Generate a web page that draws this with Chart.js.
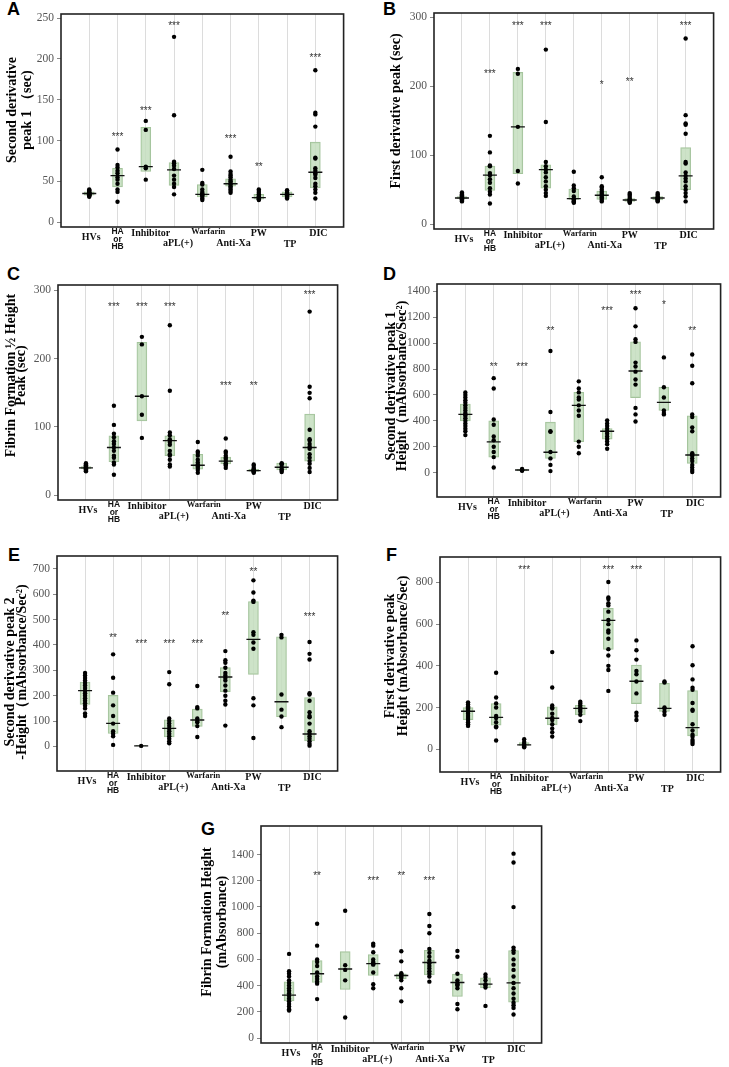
<!DOCTYPE html>
<html>
<head>
<meta charset="utf-8">
<script src="https://cdn.jsdelivr.net/npm/chart.js@4.4.1/dist/chart.umd.min.js"></script>
<style>
  body { margin: 0; background: #fff; }
  #page { position: relative; width: 729px; height: 1067px; overflow: hidden; background: #fff; }
  #page canvas { position: absolute; }
  .tag { position: absolute; font: bold 18px "Liberation Sans", Arial, sans-serif; line-height: 1; color: #000; }
</style>
</head>
<body>
<div id="page"></div>
<script>
// Groups on the x axis (same for every panel)
const categories = ["HVs", "HA or HB", "Inhibitor", "aPL(+)", "Warfarin", "Anti-Xa", "PW", "TP", "DIC"];
const xTickLabels = ["HVs", ["HA", "or", "HB"], "Inhibitor", "aPL(+)", "Warfarin", "Anti-Xa", "PW", "TP", "DIC"];

// A - Second derivative peak 1 (sec)
const aTicks = [0, 50, 100, 150, 200, 250];
const aQ1 = [33, 43, 62, 45, 31, 44, 28, 31, 42];
const aQ3 = [37, 66, 116, 73, 46, 53, 34, 37, 98];
const aMed = [35, 57, 68, 64, 34, 47, 30, 34, 61];
const aPoints = [
  [31, 32, 33, 33, 34, 34, 35, 35, 36, 36, 37, 38, 39, 40],
  [89, 70, 67, 63, 60, 55, 52, 47, 40, 37, 25],
  [124, 113, 68, 66, 52],
  [227, 131, 74, 72, 69, 65, 57, 52, 47, 43, 34],
  [64, 48, 46, 40, 37, 35, 34, 33, 31, 29, 27],
  [80, 62, 59, 57, 55, 52, 50, 48, 46, 44, 42, 40, 38, 36],
  [40, 38, 36, 34, 32, 31, 30, 29, 28, 27],
  [39, 38, 36, 35, 34, 33, 32, 31, 30, 29],
  [186, 134, 132, 117, 79, 78, 66, 63, 60, 58, 54, 47, 44, 40, 36, 29]
];
const aSig = ["", "***", "***", "***", "", "***", "**", "", "***"];
const aSigAt = [null, 108, 139, 243, null, 105, 71, null, 205];

// B - First derivative peak (sec)
const bTicks = [0, 100, 200, 300];
const bQ1 = [37, 49, 73, 52, 36, 36, 33, 35, 50];
const bQ3 = [40, 84, 220, 86, 51, 48, 37, 40, 111];
const bMed = [38, 71, 141, 79, 37, 42, 35, 38, 70];
const bPoints = [
  [33, 34, 35, 36, 37, 38, 38, 39, 40, 41, 42, 43, 44, 46],
  [128, 104, 85, 84, 74, 71, 65, 60, 52, 47, 43, 30],
  [225, 218, 141, 77, 59],
  [253, 148, 90, 84, 79, 75, 68, 62, 55, 50, 45, 41],
  [76, 56, 52, 48, 40, 37, 36, 34, 33, 32, 31],
  [68, 55, 53, 50, 47, 45, 43, 41, 39, 37, 35, 33],
  [45, 43, 41, 38, 36, 35, 34, 33, 32, 31],
  [45, 43, 41, 39, 38, 37, 36, 35, 34, 33],
  [269, 158, 146, 144, 131, 90, 88, 75, 70, 66, 62, 55, 50, 45, 40, 33]
];
const bSig = ["", "***", "***", "***", "", "*", "**", "", "***"];
const bSigAt = [null, 222, 291, 291, null, 206, 210, null, 291];

// C - Fibrin Formation 1/2 Height Peak (sec)
const cTicks = [0, 100, 200, 300];
const cQ1 = [39, 49, 109, 58, 38, 46, 35, 37, 50];
const cQ3 = [42, 87, 224, 87, 60, 56, 38, 47, 119];
const cMed = [40, 70, 145, 80, 44, 50, 36, 41, 70];
const cPoints = [
  [35, 36, 37, 38, 39, 40, 40, 41, 42, 43, 44, 45, 47],
  [131, 103, 90, 85, 79, 75, 70, 65, 58, 55, 48, 45, 30],
  [232, 221, 145, 118, 84],
  [249, 153, 92, 88, 82, 78, 74, 65, 60, 58, 52, 45, 42],
  [78, 64, 62, 58, 52, 48, 45, 42, 40, 37, 33],
  [83, 64, 62, 58, 55, 53, 50, 47, 45, 43, 40],
  [45, 43, 40, 38, 37, 36, 35, 34, 33],
  [47, 46, 45, 41, 38, 36, 34],
  [269, 159, 150, 142, 96, 82, 80, 75, 71, 68, 60, 55, 50, 46, 40, 34]
];
const cSig = ["", "***", "***", "***", "", "***", "**", "", "***"];
const cSigAt = [null, 280, 280, 280, null, 164, 164, null, 298];

// D - Second derivative peak 1 Height
const dTicks = [0, 200, 400, 600, 800, 1000, 1200, 1400];
const dQ1 = [400, 120, 14, 110, 240, 258, 580, 480, 72];
const dQ3 = [530, 400, 26, 390, 620, 340, 1010, 660, 438];
const dMed = [450, 238, 20, 158, 520, 320, 785, 543, 136];
const dPoints = [
  [620, 600, 580, 560, 540, 520, 500, 480, 460, 450, 440, 420, 400, 380, 360, 340, 320, 290],
  [730, 650, 410, 370, 280, 250, 200, 160, 120, 40],
  [28, 22, 18, 14],
  [940, 468, 320, 315, 160, 110, 60, 12],
  [705, 650, 620, 580, 565, 520, 480, 440, 240, 200, 150],
  [404, 380, 360, 340, 320, 300, 280, 260, 240, 220, 185],
  [1270, 1130, 1030, 1010, 850, 820, 780, 720, 680, 500, 450, 395],
  [890, 660, 580, 480, 460, 450],
  [912, 826, 690, 450, 430, 350, 320, 150, 140, 130, 110, 90, 60, 40, 20, 5]
];
const dSig = ["", "**", "***", "**", "", "***", "***", "*", "**"];
const dSigAt = [null, 839, 839, 1117, null, 1266, 1395, 1318, 1117];

// E - Second derivative peak 2 Height
const eTicks = [0, 100, 200, 300, 400, 500, 600, 700];
const eQ1 = [166, 51, 0, 37, 79, 216, 284, 117, 22];
const eQ3 = [254, 201, 4, 105, 147, 311, 571, 432, 193];
const eMed = [220, 91, 2, 71, 104, 274, 422, 176, 49];
const ePoints = [
  [290, 280, 270, 260, 250, 240, 230, 220, 210, 200, 190, 180, 170, 160, 150, 130, 120],
  [363, 271, 212, 162, 120, 90, 60, 50, 40, 6],
  [2],
  [293, 245, 110, 100, 90, 80, 70, 60, 50, 40, 30, 20, 12],
  [238, 155, 150, 110, 100, 95, 80, 37],
  [376, 340, 330, 310, 290, 280, 270, 260, 240, 220, 200, 180, 165, 82],
  [655, 607, 575, 570, 450, 440, 410, 385, 190, 162, 33],
  [440, 430, 205, 145, 118, 76],
  [412, 365, 343, 210, 205, 180, 135, 120, 115, 90, 60, 50, 40, 30, 20, 10, 3]
];
const eSig = ["", "**", "***", "***", "***", "**", "**", "", "***"];
const eSigAt = [null, 440, 413, 413, 413, 524, 700, null, 521];

// F - First derivative peak Height
const fTicks = [0, 200, 400, 600, 800];
const fQ1 = [142, 115, 18, 117, 165, 479, 219, 181, 64];
const fQ3 = [200, 219, 32, 204, 211, 676, 404, 316, 281];
const fMed = [182, 153, 21, 149, 196, 618, 326, 196, 104];
const fPoints = [
  [225, 215, 205, 200, 195, 190, 185, 180, 170, 160, 150, 140, 130, 120, 112],
  [367, 248, 220, 200, 160, 150, 130, 110, 105, 42],
  [48, 35, 25, 20, 15, 10],
  [466, 296, 210, 200, 195, 170, 150, 140, 120, 100, 82, 61],
  [228, 220, 210, 200, 190, 180, 165, 135],
  [802, 728, 720, 700, 690, 660, 620, 600, 570, 560, 530, 480, 450, 400, 380, 280],
  [522, 475, 430, 375, 360, 325, 268, 175, 160, 140],
  [325, 320, 200, 195, 180, 165],
  [494, 403, 335, 295, 285, 222, 190, 185, 120, 90, 70, 60, 45, 35, 25]
];
const fSig = ["", "", "***", "", "", "***", "***", "", ""];
const fSigAt = [null, null, 872, null, null, 872, 872, null, null];

// G - Fibrin Formation Height
const gTicks = [0, 200, 400, 600, 800, 1000, 1200, 1400];
const gQ1 = [284, 424, 370, 477, 451, 482, 317, 383, 274];
const gQ3 = [429, 591, 659, 637, 489, 670, 487, 459, 667];
const gMed = [327, 490, 527, 568, 477, 576, 424, 411, 421];
const gPoints = [
  [642, 510, 490, 470, 440, 420, 400, 380, 360, 340, 320, 300, 280, 260, 240, 220, 210],
  [872, 705, 600, 580, 550, 500, 470, 450, 430, 415, 297],
  [971, 555, 520, 440, 157],
  [720, 705, 655, 600, 580, 570, 565, 560, 500, 410, 380],
  [662, 585, 495, 485, 480, 470, 460, 440, 380, 280],
  [946, 855, 800, 680, 650, 620, 590, 570, 550, 530, 510, 490, 470, 430],
  [665, 620, 490, 440, 420, 410, 400, 380, 260, 220],
  [485, 465, 440, 410, 400, 385, 245],
  [1407, 1339, 999, 690, 670, 650, 600, 560, 520, 470, 420, 380, 340, 300, 270, 250, 230, 180]
];
const gSig = ["", "**", "", "***", "**", "***", "", "", ""];
const gSigAt = [null, 1260, null, 1217, 1260, 1217, null, null, null];

// where each panel sits on the page (frame = plot box l,t,r,b)
const panels = [
  { tag: "A", left: 0, frame: [61, 14, 349, 227], yMin: -6, yMax: 255, ticks: aTicks, q1: aQ1, q3: aQ3, med: aMed, pts: aPoints, sig: aSig, sigAt: aSigAt,
    title: ["Second derivative", "peak 1 （sec)"], titleX: [12, 27], titleY: 110, tagPos: [7, 0] },
  { tag: "B", left: 364, frame: [434, 13, 719, 229], yMin: -7, yMax: 306, ticks: bTicks, q1: bQ1, q3: bQ3, med: bMed, pts: bPoints, sig: bSig, sigAt: bSigAt,
    title: ["First derivative peak (sec)"], titleX: [396], titleY: 111, tagPos: [383, 0] },
  { tag: "C", left: 0, frame: [58, 284.5, 343, 500], yMin: -7, yMax: 308, ticks: cTicks, q1: cQ1, q3: cQ3, med: cMed, pts: cPoints, sig: cSig, sigAt: cSigAt,
    title: ["Fibrin Formation ½ Height", "Peak (sec)"], titleX: [11, 21], titleY: 375, tagPos: [7, 265] },
  { tag: "D", left: 364, frame: [437, 284, 726, 497], yMin: -188, yMax: 1457, ticks: dTicks, q1: dQ1, q3: dQ3, med: dMed, pts: dPoints, sig: dSig, sigAt: dSigAt,
    title: ["Second derivative peak 1", "Height（mAbsorbance/Sec²)"], titleX: [391, 402], titleY: 386, tagPos: [383, 265] },
  { tag: "E", left: 0, frame: [57, 556, 343, 771], yMin: -97, yMax: 751, ticks: eTicks, q1: eQ1, q3: eQ3, med: eMed, pts: ePoints, sig: eSig, sigAt: eSigAt,
    title: ["Second derivative peak 2", "-Height（mAbsorbance/Sec²)"], titleX: [10, 22], titleY: 672, tagPos: [8, 546] },
  { tag: "F", left: 364, frame: [440, 557, 726, 772], yMin: -109, yMax: 922, ticks: fTicks, q1: fQ1, q3: fQ3, med: fMed, pts: fPoints, sig: fSig, sigAt: fSigAt,
    title: ["First derivative peak", "Height (mAbsorbance/Sec)"], titleX: [390, 403], titleY: 656, tagPos: [386, 546] },
  { tag: "G", left: 180, frame: [261, 826, 547, 1043], yMin: -38, yMax: 1618, ticks: gTicks, q1: gQ1, q3: gQ3, med: gMed, pts: gPoints, sig: gSig, sigAt: gSigAt,
    title: ["Fibrin Formation Height", "(mAbsorbance)"], titleX: [207, 222], titleY: 922, tagPos: [201, 820] }
];

// x label nudges below the frame (dx, dy from frame bottom)
const xLabelLook = [
  { dx: 2, dy: 10 }, { dx: 0, dy: 5 }, { dx: 5, dy: 6.5 }, { dx: 4, dy: 16.5 }, { dx: 6, dy: 4.5, size: 8.5 },
  { dx: 3, dy: 16 }, { dx: 0, dy: 6.5 }, { dx: 3, dy: 17 }, { dx: 3, dy: 6.5 }
];

const SERIF = '"Liberation Serif", "Times New Roman", serif';
const SANS = '"Liberation Sans", Arial, sans-serif';

const panelDecor = {
  id: "panelDecor",
  afterDraw(chart, args, o) {
    const { ctx, chartArea: ca, scales } = chart;
    ctx.save();
    // significance stars
    ctx.fillStyle = "#333";
    ctx.font = "10px " + SANS;
    ctx.textAlign = "center";
    ctx.textBaseline = "alphabetic";
    o.sig.forEach((s, i) => {
      if (!s) return;
      ctx.fillText(s, scales.x.getPixelForValue(i + 1), scales.y.getPixelForValue(o.sigAt[i]) + 5.7);
    });
    // frame
    ctx.strokeStyle = "#222";
    ctx.lineWidth = 1.6;
    ctx.strokeRect(ca.left, ca.top, ca.right - ca.left, ca.bottom - ca.top);
    // x labels
    ctx.fillStyle = "#111";
    ctx.textBaseline = "middle";
    xTickLabels.forEach((lab, i) => {
      const look = xLabelLook[i];
      const x = scales.x.getPixelForValue(i + 1) + look.dx;
      if (Array.isArray(lab)) {
        ctx.font = "bold 8.5px " + SANS;
        lab.forEach((line, k) => ctx.fillText(line, x, ca.bottom + look.dy + k * 7.3));
      } else {
        ctx.font = "bold " + (look.size || 10) + "px " + SERIF;
        ctx.fillText(lab, x, ca.bottom + look.dy);
      }
    });
    // y title
    ctx.fillStyle = "#000";
    ctx.font = "bold 14px " + SERIF;
    o.title.forEach((line, k) => {
      ctx.save();
      ctx.translate(o.titleX[k] - o.left, o.titleY - o.top);
      ctx.rotate(-Math.PI / 2);
      ctx.fillText(line, 0, 0);
      ctx.restore();
    });
    ctx.restore();
  }
};

const page = document.getElementById("page");

panels.forEach((p) => {
  const [fl, ft, fr, fb] = p.frame;
  const top = ft - 12;
  const width = fr + 3 - p.left;
  const height = fb + 34 - top;

  const tag = document.createElement("div");
  tag.className = "tag";
  tag.textContent = p.tag;
  tag.style.left = p.tagPos[0] + "px";
  tag.style.top = p.tagPos[1] + "px";
  page.appendChild(tag);

  const canvas = document.createElement("canvas");
  canvas.width = width;
  canvas.height = height;
  canvas.style.left = p.left + "px";
  canvas.style.top = top + "px";
  page.appendChild(canvas);

  const dots = [];
  p.pts.forEach((vals, i) => vals.forEach((v) => dots.push({ x: i + 1, y: v })));

  new Chart(canvas.getContext("2d"), {
    type: "scatter",
    data: {
      datasets: [
        {
          label: "points",
          data: dots,
          order: 0,
          pointRadius: 2.2,
          pointBackgroundColor: "#000",
          pointBorderWidth: 0
        },
        {
          label: "median",
          data: p.med.map((m, i) => ({ x: i + 1, y: m })),
          order: 1,
          pointStyle: "line",
          pointRadius: 7,
          pointBorderColor: "#111",
          pointBorderWidth: 1.4
        },
        {
          type: "bar",
          label: "IQR",
          data: p.q1.map((lo, i) => ({ x: i + 1, y: [lo, p.q3[i]] })),
          order: 2,
          barThickness: 10,
          backgroundColor: "rgba(196, 222, 190, 0.85)",
          borderColor: "#a3c39b",
          borderWidth: 1,
          borderSkipped: false
        }
      ]
    },
    options: {
      responsive: false,
      animation: false,
      events: [],
      layout: { padding: { left: 0, top: 12, right: 3, bottom: 34 } },
      plugins: {
        legend: { display: false },
        tooltip: { enabled: false },
        panelDecor: { sig: p.sig, sigAt: p.sigAt, title: p.title, titleX: p.titleX, titleY: p.titleY, left: p.left, top: top }
      },
      scales: {
        x: {
          type: "linear",
          min: 0,
          max: categories.length + 1,
          offset: false,
          afterBuildTicks: (s) => { s.ticks = categories.map((c, i) => ({ value: i + 1 })); },
          afterFit: (s) => { s.height = 0; },
          ticks: { display: false },
          border: { display: false },
          grid: { offset: false, drawTicks: false, color: "#dcdcdc", lineWidth: 1 }
        },
        y: {
          type: "linear",
          min: p.yMin,
          max: p.yMax,
          afterBuildTicks: (s) => { s.ticks = p.ticks.map((v) => ({ value: v })); },
          afterFit: (s) => { s.width = fl - p.left; },
          border: { display: false },
          grid: { drawOnChartArea: false, tickLength: 4, color: "#888" },
          ticks: { color: "#555", padding: 3, font: { family: SERIF, size: 11.5 }, callback: (v) => String(v) }
        }
      }
    },
    plugins: [panelDecor]
  });
});
</script>
</body>
</html>
